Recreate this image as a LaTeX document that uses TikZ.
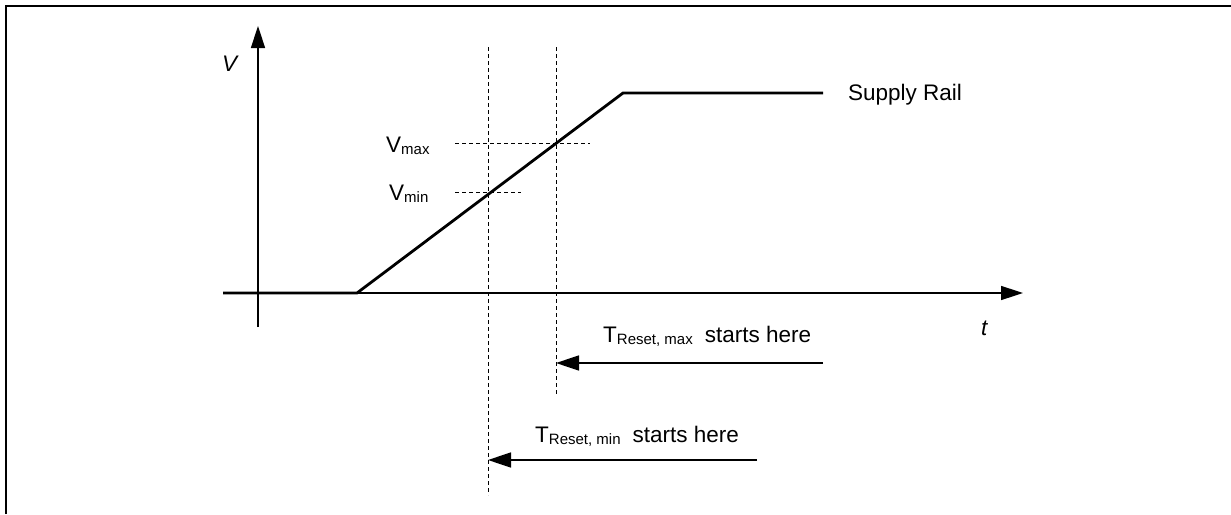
\documentclass[tikz,border=0pt]{standalone}
\usepackage{fontspec}
\setmainfont{Liberation Sans}
\usetikzlibrary{arrows.meta}
\newcommand{\mainsz}{\fontsize{22.5}{26}\selectfont}
\newcommand{\subsz}{\fontsize{15}{17}\selectfont}
\newcommand{\withsub}[2]{#1\raisebox{-2pt}{\subsz #2}}
\begin{document}
\begin{tikzpicture}[x=1pt,y=-1pt,
  lbl/.style={inner sep=0pt, anchor=base west, font=\mainsz},
  axisline/.style={line width=1.5pt, -{Triangle[length=22pt,width=14pt]}},
  wave/.style={line width=2.8pt, line join=miter},
  guide/.style={line width=1pt, dash pattern=on 4pt off 3pt},
  startarrow/.style={line width=1.6pt, -{Triangle[length=23pt,width=15pt]}}]
\useasboundingbox (0,0) rectangle (1231,514);
% frame
\draw[line width=2pt] (6,514) -- (6,6) -- (1231,6);
% axes
\coordinate (vbot) at (258,327);
\coordinate (vtop) at (258,26);
\coordinate (tleft) at (223,293);
\coordinate (tright) at (1023,293);
\draw[axisline] (vbot) -- (vtop);
\draw[axisline] (tleft) -- (tright);
\node[lbl, font=\mainsz\itshape] (vlab) at (222,71) {V};
\node[lbl, font=\mainsz\itshape] (tlab) at (981,335) {t};
% waveform
\coordinate (w0) at (223,293);
\coordinate (w1) at (357,293);
\coordinate (w2) at (623,93);
\coordinate (w3) at (823,93);
\draw[wave] (w0) -- (w1) -- (w2) -- (w3);
\node[lbl] (rail) at (848,100) {Supply Rail};
% guides
\coordinate (dminT) at (488,47);
\coordinate (dminB) at (488,495);
\coordinate (dmaxT) at (556,47);
\coordinate (dmaxB) at (556,395);
\draw[guide] (dminT) -- (dminB);
\draw[guide] (dmaxT) -- (dmaxB);
\coordinate (hmaxL) at (455,143);
\coordinate (hmaxR) at (590,143);
\coordinate (hminL) at (455,192);
\coordinate (hminR) at (521,192);
\draw[guide] (hmaxL) -- (hmaxR);
\draw[guide] (hminL) -- (hminR);
\node[lbl] (vmax) at (386,152) {\withsub{V}{max}};
\node[lbl] (vmin) at (389,200) {\withsub{V}{min}};
% start arrows
\coordinate (amaxR) at (823,363);
\coordinate (amaxL) at (556,363);
\draw[startarrow] (amaxR) -- (amaxL);
\node[lbl] (tmax) at (603,342) {\withsub{T}{Reset, max}\hspace{12pt}starts here};
\coordinate (aminR) at (757,460);
\coordinate (aminL) at (488,460);
\draw[startarrow] (aminR) -- (aminL);
\node[lbl] (tmin) at (535,442) {\withsub{T}{Reset, min}\hspace{12pt}starts here};
\end{tikzpicture}
\end{document}
